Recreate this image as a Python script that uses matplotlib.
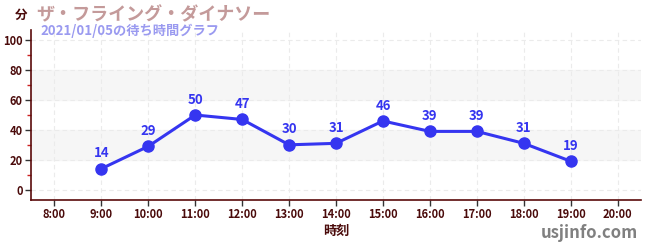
import matplotlib
matplotlib.use("Agg")
import matplotlib.pyplot as plt
from matplotlib.ticker import MultipleLocator

plt.rcParams["font.family"] = ["Noto Sans CJK JP", "DejaVu Sans"]

hours = [9, 10, 11, 12, 13, 14, 15, 16, 17, 18, 19]
waits = [14, 29, 50, 47, 30, 31, 46, 39, 39, 31, 19]
tick_hours = list(range(8, 21))
tick_labels = [f"{h}:00" for h in tick_hours]

AXIS = "#5a0a0a"
TEXT = "#4a0a0a"
LINE = "#3535f0"

fig = plt.figure(figsize=(6.5, 2.5), dpi=100)
ax = fig.add_axes([0.0477, 0.2, 0.9385, 0.68])

ax.set_xlim(7.5, 20.5)
ax.set_ylim(-7, 107)

for lo, hi in [(20, 40), (60, 80)]:
    ax.axhspan(lo, hi, color="#f6f6f6", zorder=0)

ax.set_xticks(tick_hours)
ax.set_xticklabels(tick_labels)
ax.set_yticks([0, 20, 40, 60, 80, 100])
ax.yaxis.set_minor_locator(MultipleLocator(10))
ax.grid(True, which="major", color="#ebebeb", linestyle=(0, (4, 3)), linewidth=0.8, zorder=0)

ax.plot(hours, waits, color=LINE, linewidth=2.2, marker="o", markersize=8, zorder=3)
for h, w in zip(hours, waits):
    ax.annotate(str(w), (h, w), xytext=(0, 6), textcoords="offset points",
                ha="center", va="bottom", fontsize=9.5, fontweight="bold", color=LINE)

for s in ["top", "right"]:
    ax.spines[s].set_visible(False)
for s in ["left", "bottom"]:
    ax.spines[s].set_color(AXIS)
    ax.spines[s].set_linewidth(1.2)

ax.tick_params(axis="both", which="major", length=4, width=1, color="#333333",
               labelsize=8, labelcolor=TEXT, pad=2)
ax.tick_params(axis="y", which="minor", length=3, width=1, color="#cc2222")
for lbl in ax.get_xticklabels() + ax.get_yticklabels():
    lbl.set_fontweight("bold")

fig.text(0.032, 0.94, "分", fontsize=9, fontweight="bold", color=TEXT, ha="center", va="center")
fig.text(0.055, 0.94, "ザ・フライング・ダイナソー", fontsize=13, fontweight="bold",
         color="#c49a9a", ha="left", va="center")
fig.text(0.062, 0.878, "2021/01/05の待ち時間グラフ", fontsize=9.5, fontweight="bold",
         color="#9a9af0", ha="left", va="center")
fig.text(0.518, 0.075, "時刻", fontsize=9.5, fontweight="bold", color=TEXT, ha="center", va="center")
fig.text(0.906, 0.07, "usjinfo.com", fontsize=12, fontweight="bold", color="#808080",
         ha="center", va="center")

fig.savefig("out.png", dpi=100, facecolor="white")
